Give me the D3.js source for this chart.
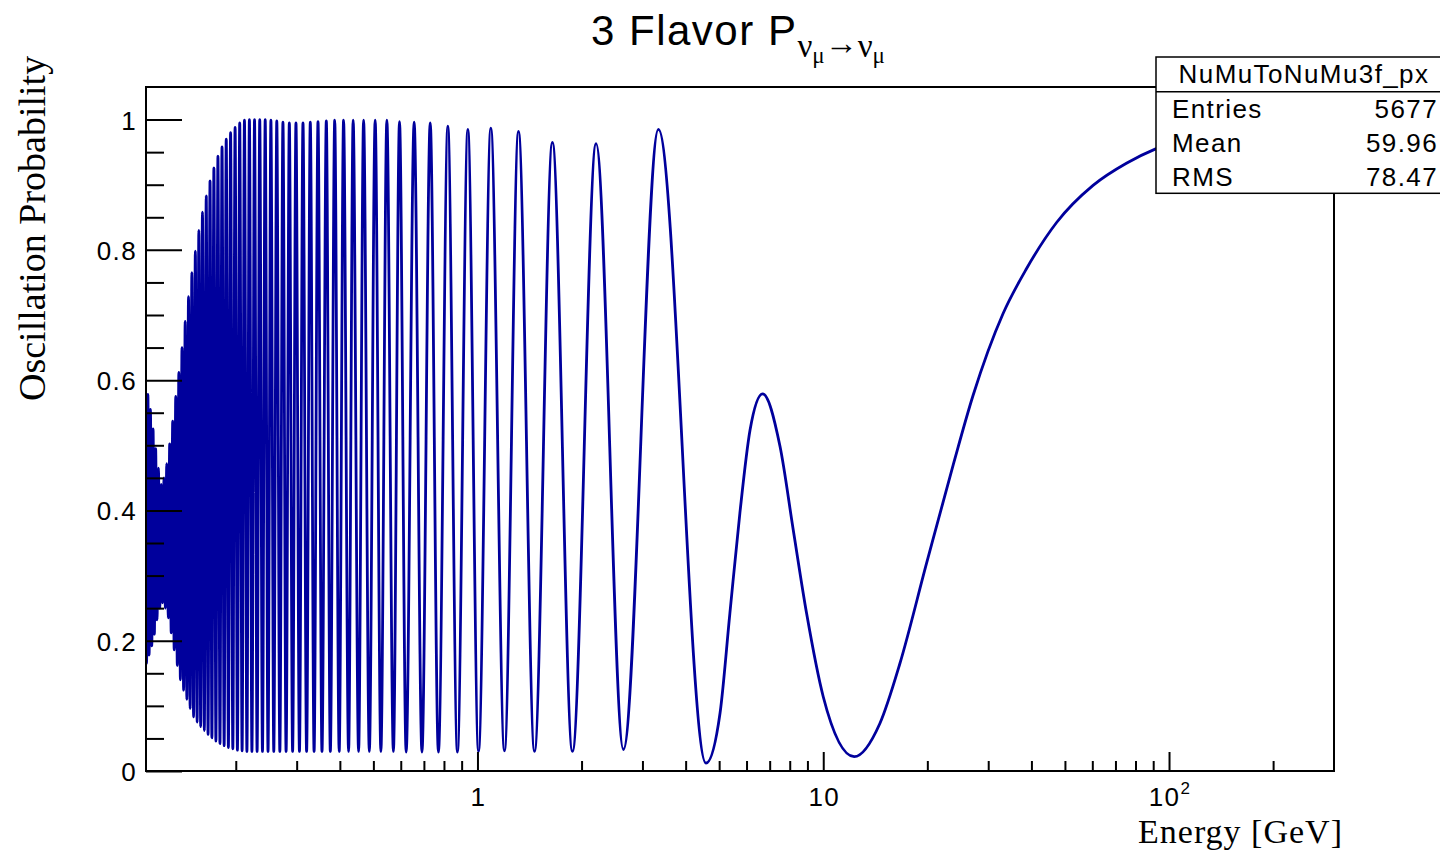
<!DOCTYPE html>
<html>
<head>
<meta charset="utf-8">
<script src="https://cdn.jsdelivr.net/npm/d3@7"></script>
<style>
  html, body { margin: 0; padding: 0; background: #ffffff; }
  svg { display: block; }
</style>
</head>
<body>
<svg id="chart" width="1440" height="850"></svg>
<script>
// Survival probability P(numu -> numu): turning points of the oscillation,
// plus extra samples along the broad lobes at high energy.
const energyGeV = [
  0.1095, 0.1104, 0.1114, 0.1123, 0.1133, 0.1143, 0.1153, 0.1163, 0.1173, 0.1184,
  0.1195, 0.1206, 0.1217, 0.1228, 0.1240, 0.1251, 0.1263, 0.1276, 0.1288, 0.1301,
  0.1314, 0.1327, 0.1341, 0.1355, 0.1369, 0.1383, 0.1398, 0.1413, 0.1428, 0.1444,
  0.1460, 0.1476, 0.1493, 0.1510, 0.1528, 0.1546, 0.1564, 0.1583, 0.1602, 0.1622,
  0.1643, 0.1663, 0.1685, 0.1706, 0.1729, 0.1752, 0.1776, 0.1800, 0.1825, 0.1851,
  0.1877, 0.1904, 0.1932, 0.1961, 0.1991, 0.2022, 0.2053, 0.2086, 0.2119, 0.2154,
  0.2190, 0.2227, 0.2266, 0.2305, 0.2346, 0.2389, 0.2433, 0.2479, 0.2527, 0.2576,
  0.2628, 0.2682, 0.2738, 0.2796, 0.2857, 0.2920, 0.2986, 0.3056, 0.3129, 0.3205,
  0.3285, 0.3369, 0.3458, 0.3551, 0.3655, 0.3754, 0.3865, 0.3982, 0.4100, 0.4239,
  0.4370, 0.4531, 0.4685, 0.4867, 0.5060, 0.5256, 0.5470, 0.5713, 0.5950, 0.6220,
  0.6560, 0.6910, 0.7300, 0.7710, 0.8210, 0.8750, 0.9380, 1.0070, 1.0930, 1.1970,
  1.3140, 1.4620, 1.6470, 1.8820, 2.2030, 2.6430, 3.3360, 4.5800, 5.0300, 5.3700,
  5.7400, 6.1400, 6.6800, 7.5000, 8.1900, 8.9500, 10.000, 12.290, 14.580, 16.660,
  19.900, 23.760, 27.100, 33.100, 38.700, 47.300, 60.300, 75.300, 91.500, 150.00,
  300.00
];
const probability = [
  0.600, 0.165, 0.578, 0.178, 0.555, 0.192, 0.525, 0.210, 0.495, 0.232,
  0.465, 0.250, 0.440, 0.258, 0.450, 0.250, 0.472, 0.235, 0.502, 0.212,
  0.537, 0.186, 0.575, 0.162, 0.612, 0.140, 0.650, 0.124, 0.690, 0.110,
  0.728, 0.096, 0.765, 0.083, 0.798, 0.075, 0.830, 0.068, 0.858, 0.062,
  0.883, 0.056, 0.906, 0.051, 0.926, 0.046, 0.944, 0.042, 0.958, 0.039,
  0.970, 0.036, 0.980, 0.034, 0.988, 0.032, 0.995, 0.031, 0.999, 0.030,
  1.000, 0.030, 1.000, 0.030, 1.000, 0.030, 1.000, 0.030, 0.999, 0.030,
  0.998, 0.030, 0.996, 0.030, 0.995, 0.030, 0.995, 0.030, 0.995, 0.030,
  0.996, 0.030, 0.997, 0.030, 0.998, 0.030, 0.999, 0.030, 0.999, 0.030,
  0.999, 0.030, 0.999, 0.030, 0.999, 0.030, 0.999, 0.030, 0.997, 0.029,
  0.996, 0.029, 0.995, 0.029, 0.990, 0.029, 0.985, 0.030, 0.987, 0.031,
  0.982, 0.030, 0.965, 0.030, 0.963, 0.033, 0.985, 0.012, 0.089, 0.242,
  0.396, 0.523, 0.579, 0.498, 0.370, 0.242, 0.114, 0.022, 0.073, 0.165,
  0.319, 0.470, 0.576, 0.702, 0.771, 0.842, 0.899, 0.933, 0.955, 0.982,
  0.995
];

const xDomain = [0.11, 300];
const yDomain = [0, 1.05];
const xMajorTicks = [1, 10, 100];
const xMinorTicks = [0.2, 0.3, 0.4, 0.5, 0.6, 0.7, 0.8, 0.9,
                     2, 3, 4, 5, 6, 7, 8, 9,
                     20, 30, 40, 50, 60, 70, 80, 90, 200];
const xTickLabels = [{ base: "1", exp: "" }, { base: "10", exp: "" }, { base: "10", exp: "2" }];
const yMajorTicks = [0, 0.2, 0.4, 0.6, 0.8, 1];
const yTickLabels = ["0", "0.2", "0.4", "0.6", "0.8", "1"];
const yMinorTicks = [0.05, 0.1, 0.15, 0.25, 0.3, 0.35, 0.45, 0.5, 0.55,
                     0.65, 0.7, 0.75, 0.85, 0.9, 0.95];
const histName = "NuMuToNuMu3f_px";
const statNames = ["Entries", "Mean", "RMS"];
const statValues = ["5677", "59.96", "78.47"];

const frame = { left: 146, right: 1334, top: 87, bottom: 771 };
const sans = "'Liberation Sans', Arial, Helvetica, sans-serif";
const serif = "'Liberation Serif', 'Times New Roman', serif";

const svg = d3.select("#chart");

const x = d3.scaleLog().domain(xDomain).range([frame.left, frame.right]);
const y = d3.scaleLinear().domain(yDomain).range([frame.bottom, frame.top]);

svg.append("defs").append("clipPath").attr("id", "plot-clip")
  .append("rect")
  .attr("x", frame.left).attr("y", frame.top)
  .attr("width", frame.right - frame.left).attr("height", frame.bottom - frame.top);

// curve
const points = energyGeV.map((e, i) => [e, probability[i]]);
const line = d3.line()
  .x(d => x(d[0]))
  .y(d => y(d[1]))
  .curve(d3.curveMonotoneX);

svg.append("path")
  .datum(points)
  .attr("clip-path", "url(#plot-clip)")
  .attr("d", line)
  .attr("fill", "none")
  .attr("stroke", "#00009c")
  .attr("stroke-width", 2.8)
  .attr("stroke-linejoin", "round");

// axes: ticks point into the frame
function styleTicks(g) {
  g.select(".domain").remove();
  g.selectAll(".tick line").attr("stroke", "#000").attr("stroke-width", 2);
  g.selectAll(".tick text").remove();
}

svg.append("g")
  .attr("transform", `translate(0,${frame.bottom})`)
  .call(d3.axisBottom(x).tickValues(xMinorTicks).tickSize(-10).tickFormat(""))
  .call(styleTicks);
svg.append("g")
  .attr("transform", `translate(0,${frame.bottom})`)
  .call(d3.axisBottom(x).tickValues(xMajorTicks).tickSize(-19).tickFormat(""))
  .call(styleTicks);
svg.append("g")
  .attr("transform", `translate(${frame.left},0)`)
  .call(d3.axisLeft(y).tickValues(yMinorTicks).tickSize(-18).tickFormat(""))
  .call(styleTicks);
svg.append("g")
  .attr("transform", `translate(${frame.left},0)`)
  .call(d3.axisLeft(y).tickValues(yMajorTicks).tickSize(-36).tickFormat(""))
  .call(styleTicks);

// frame
svg.append("rect")
  .attr("x", frame.left).attr("y", frame.top)
  .attr("width", frame.right - frame.left).attr("height", frame.bottom - frame.top)
  .attr("fill", "none").attr("stroke", "#000").attr("stroke-width", 2);

// tick labels
svg.append("g").selectAll("text")
  .data(yMajorTicks)
  .join("text")
  .attr("x", frame.left - 9)
  .attr("y", d => y(d) + 10)
  .attr("text-anchor", "end")
  .attr("font-family", sans)
  .attr("font-size", 26)
  .attr("letter-spacing", 1.4)
  .text((d, i) => yTickLabels[i]);

const xl = svg.append("g").selectAll("text")
  .data(xMajorTicks)
  .join("text")
  .attr("x", d => x(d) + 1)
  .attr("y", 806)
  .attr("text-anchor", "middle")
  .attr("font-family", sans)
  .attr("font-size", 26)
  .attr("letter-spacing", 1.4);
xl.append("tspan").text((d, i) => xTickLabels[i].base);
xl.filter((d, i) => xTickLabels[i].exp !== "")
  .append("tspan")
  .attr("dy", -12)
  .attr("font-size", 17)
  .text((d, i) => xTickLabels.filter(t => t.exp !== "")[i].exp);

// axis titles
svg.append("text")
  .attr("x", 1138).attr("y", 842.6)
  .attr("text-anchor", "start")
  .attr("font-family", serif)
  .attr("font-size", 34)
  .attr("textLength", 204)
  .attr("lengthAdjust", "spacing")
  .text("Energy [GeV]");

svg.append("text")
  .attr("transform", "translate(45,401) rotate(-90)")
  .attr("text-anchor", "start")
  .attr("font-family", serif)
  .attr("font-size", 38)
  .text("Oscillation Probability");

// title with subscripted nu_mu -> nu_mu
const title = svg.append("text")
  .attr("x", 591).attr("y", 45)
  .attr("font-family", sans)
  .attr("font-size", 42)
  .attr("letter-spacing", 1.5);
title.append("tspan").text("3 Flavor P");
title.append("tspan").attr("font-family", serif).attr("font-size", 33).attr("dy", 12).attr("letter-spacing", 0).text("ν");
title.append("tspan").attr("font-family", serif).attr("font-size", 23).attr("dy", 6).attr("letter-spacing", 0).text("μ");
title.append("tspan").attr("font-family", sans).attr("font-size", 33).attr("dy", -9).attr("letter-spacing", 0).text("→");
title.append("tspan").attr("font-family", serif).attr("font-size", 33).attr("dy", 3).attr("letter-spacing", 0).text("ν");
title.append("tspan").attr("font-family", serif).attr("font-size", 23).attr("dy", 6).attr("letter-spacing", 0).text("μ");

// statistics box
const box = { left: 1156, top: 57, right: 1452, header: 91.7, bottom: 193.3 };
svg.append("rect")
  .attr("x", box.left).attr("y", box.top)
  .attr("width", box.right - box.left).attr("height", box.bottom - box.top)
  .attr("fill", "#fff").attr("stroke", "#000").attr("stroke-width", 1.5);
svg.append("line")
  .attr("x1", box.left).attr("x2", box.right)
  .attr("y1", box.header).attr("y2", box.header)
  .attr("stroke", "#000").attr("stroke-width", 1.5);
svg.append("text")
  .attr("x", (box.left + box.right) / 2).attr("y", 83)
  .attr("text-anchor", "middle")
  .attr("font-family", sans).attr("font-size", 26).attr("letter-spacing", 1.4)
  .text(histName);

const rowH = (box.bottom - box.header) / statNames.length;
svg.append("g").selectAll("text")
  .data(statNames)
  .join("text")
  .attr("x", 1172)
  .attr("y", (d, i) => box.header + rowH * (i + 0.5) + 9.5)
  .attr("font-family", sans).attr("font-size", 26).attr("letter-spacing", 1.4)
  .text(d => d);
svg.append("g").selectAll("text")
  .data(statValues)
  .join("text")
  .attr("x", 1438)
  .attr("y", (d, i) => box.header + rowH * (i + 0.5) + 9.5)
  .attr("text-anchor", "end")
  .attr("font-family", sans).attr("font-size", 26).attr("letter-spacing", 1.4)
  .text(d => d);
</script>
</body>
</html>
